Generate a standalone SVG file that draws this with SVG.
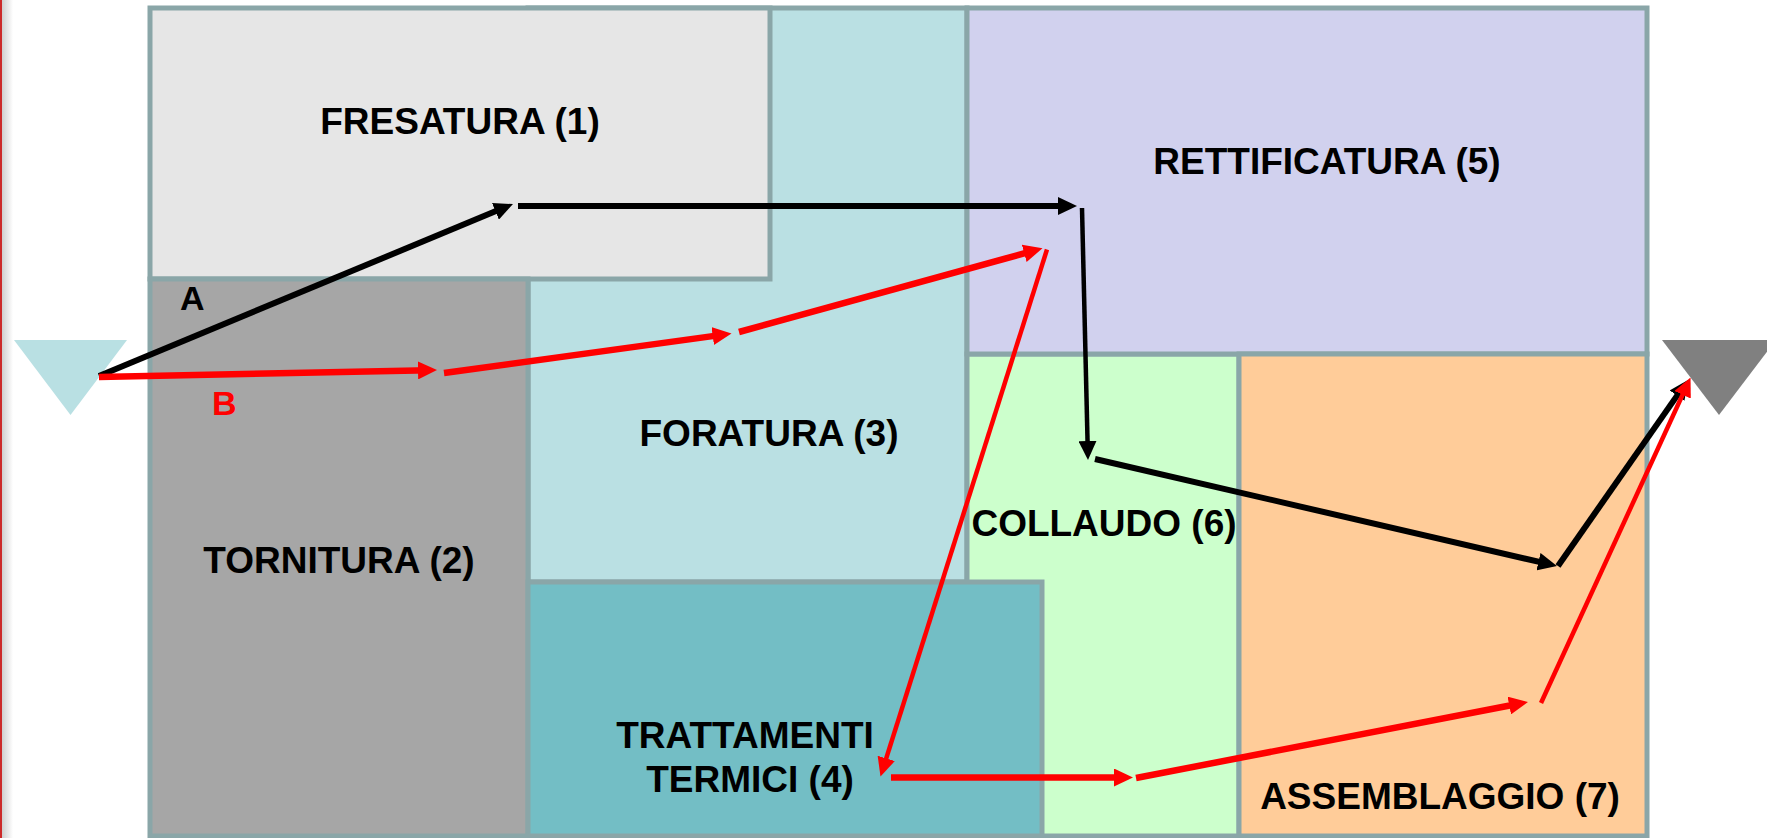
<svg xmlns="http://www.w3.org/2000/svg" width="1767" height="838" viewBox="0 0 1767 838">
  <defs>
    <style>
      .dept { stroke: #8aa6a8; stroke-width: 5; }
      .lbl { font-family: "Liberation Sans", Arial, sans-serif; font-weight: bold; font-size: 37px; fill: #000; text-anchor: middle; }
      .tag { font-family: "Liberation Sans", Arial, sans-serif; font-weight: bold; font-size: 34px; }
      .flowA { fill: none; stroke: #000; stroke-width: 6; marker-end: url(#headA); }
      .flowB { fill: none; stroke: #ff0000; stroke-width: 6.5; marker-end: url(#headB); }
      .thin { stroke-width: 4.5; }
    </style>
    <marker id="headA" markerUnits="userSpaceOnUse" markerWidth="19" markerHeight="18" refX="11" refY="9" orient="auto">
      <path d="M0,0 L19,9 L0,18 z" fill="#000"/>
    </marker>
    <marker id="headB" markerUnits="userSpaceOnUse" markerWidth="19" markerHeight="18" refX="11" refY="9" orient="auto">
      <path d="M0,0 L19,9 L0,18 z" fill="#ff0000"/>
    </marker>
    <linearGradient id="edgeShade" x1="0" y1="0" x2="1" y2="0">
      <stop offset="0" stop-color="#cfcfcf"/>
      <stop offset="1" stop-color="#ffffff"/>
    </linearGradient>
  </defs>

  <rect x="0" y="0" width="1767" height="838" fill="#ffffff"/>
  <!-- page edge -->
  <rect x="2" y="0" width="11" height="838" fill="url(#edgeShade)"/>
  <rect x="0" y="0" width="2" height="838" fill="#cc2a2a"/>

  <!-- departments of the shop floor -->
  <g id="foratura">
    <rect class="dept" x="528" y="8" width="439" height="574" fill="#bae0e3"/>
    <text class="lbl" x="769" y="446">FORATURA (3)</text>
  </g>
  <g id="collaudo">
    <rect class="dept" x="967" y="354" width="272" height="482" fill="#ccffcc"/>
    <text class="lbl" x="1104" y="536">COLLAUDO (6)</text>
  </g>
  <g id="fresatura">
    <rect class="dept" x="150" y="8" width="620" height="271" fill="#e6e6e6"/>
    <text class="lbl" x="460" y="134">FRESATURA (1)</text>
  </g>
  <g id="tornitura">
    <rect class="dept" x="150" y="279" width="378" height="557" fill="#a6a6a6"/>
    <text class="lbl" x="339" y="573">TORNITURA (2)</text>
  </g>
  <g id="trattamenti">
    <rect class="dept" x="528" y="582" width="514" height="254" fill="#73bec5"/>
    <text class="lbl" x="745" y="748">TRATTAMENTI</text>
    <text class="lbl" x="750" y="792">TERMICI (4)</text>
  </g>
  <g id="rettificatura">
    <rect class="dept" x="967" y="8" width="680" height="346" fill="#d1d1ee"/>
    <text class="lbl" x="1327" y="174">RETTIFICATURA (5)</text>
  </g>
  <g id="assemblaggio">
    <rect class="dept" x="1239" y="354" width="408" height="482" fill="#ffcc99"/>
    <text class="lbl" x="1440" y="809">ASSEMBLAGGIO (7)</text>
  </g>

  <!-- raw material in / finished product out -->
  <g id="ingresso">
    <polygon points="14,340 127,340 70.5,415" fill="#b9e0e3"/>
  </g>
  <g id="uscita">
    <polygon points="1662,340 1776,340 1719,415" fill="#808080"/>
  </g>

  <!-- routes of products A and B -->
  <g id="connectors">
    <g id="routeA">
      <line class="flowA" x1="99" y1="376" x2="505.6" y2="207.1"/>
      <line class="flowA" x1="518" y1="206" x2="1069" y2="206"/>
      <line class="flowA thin" x1="1082" y1="208" x2="1087.8" y2="452"/>
      <line class="flowA" x1="1095" y1="459" x2="1549.2" y2="564.2"/>
      <line class="flowA" x1="1558" y1="566" x2="1683.4" y2="386.6"/>
    </g>
    <g id="routeB">
      <line class="flowB" x1="99" y1="377" x2="429" y2="370.2"/>
      <line class="flowB" x1="444" y1="373" x2="723.6" y2="334.6"/>
      <line class="flowB" x1="739" y1="332" x2="1034.8" y2="250.4"/>
      <line class="flowB thin" x1="1047" y1="249.5" x2="882.9" y2="768.9"/>
      <line class="flowB" x1="891" y1="777.5" x2="1125" y2="777.5"/>
      <line class="flowB" x1="1136" y1="778" x2="1520.1" y2="703.5"/>
      <line class="flowB thin" x1="1541" y1="703" x2="1687.2" y2="384.8"/>
    </g>
  </g>

  <g id="labels">
    <text class="tag" x="180" y="310" fill="#000">A</text>
    <text class="tag" x="212" y="415" fill="#ff0000">B</text>
  </g>
</svg>
